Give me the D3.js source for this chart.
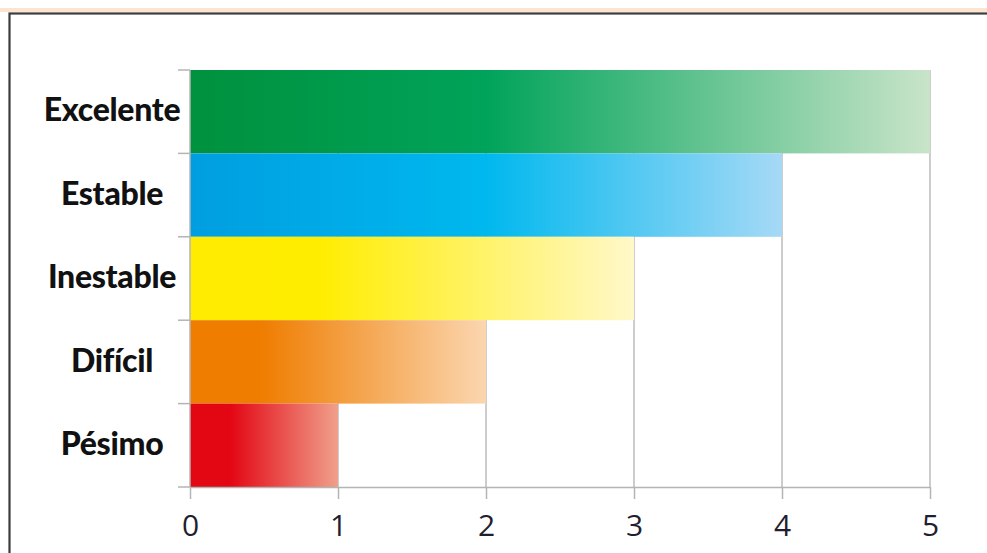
<!DOCTYPE html>
<html><head><meta charset="utf-8">
<script src="https://cdn.jsdelivr.net/npm/d3@7"></script>
<style>html,body{margin:0;padding:0;background:#fff;}svg{display:block;}</style>
</head><body>
<svg id="c" width="987" height="553"></svg>
<script>
const categories = ["Excelente", "Estable", "Inestable", "Difícil", "Pésimo"];
const values = [5, 4, 3, 2, 1];
const tickValues = [0, 1, 2, 3, 4, 5];
// gradient colours per bar: start, solid-end stop, fade end
const colorStart = ["#00913d", "#009ee0", "#ffec00", "#ef7d00", "#e30613"];
const colorMid   = ["#00a35a", "#00b8ee", "#ffed00", "#ef7d00", "#e30613"];
const colorEnd   = ["#c9e4c9", "#a6d9f6", "#fff8c9", "#fbd6b0", "#f0a08b"];
const midOffset  = [0.4, 0.5, 0.29, 0.24, 0.27];

const svg = d3.select("#c");
const x = d3.scaleLinear().domain([0, 5]).range([190, 930]);
const y = d3.scaleBand().domain(categories).range([70, 487]).padding(0);

// top peach strip and frame
svg.append("rect").attr("x", 0).attr("y", 8).attr("width", 987).attr("height", 4).attr("fill", "#fde4d0");
svg.append("rect").attr("x", 9.5).attr("y", 13.5).attr("width", 1200).attr("height", 800)
  .attr("fill", "none").attr("stroke", "#3c3c3c").attr("stroke-width", 2.2);

const defs = svg.append("defs");
categories.forEach((c, i) => {
  const g = defs.append("linearGradient").attr("id", "g" + i)
    .attr("x1", "0%").attr("x2", "100%").attr("y1", "0%").attr("y2", "0%");
  g.append("stop").attr("offset", 0).attr("stop-color", colorStart[i]);
  g.append("stop").attr("offset", midOffset[i]).attr("stop-color", colorMid[i]);
  g.append("stop").attr("offset", 1).attr("stop-color", colorEnd[i]);
});

// gridlines
svg.append("g").selectAll("line").data(tickValues.slice(1)).join("line")
  .attr("x1", d => x(d)).attr("x2", d => x(d))
  .attr("y1", 70).attr("y2", 487)
  .attr("stroke", "#bdbdbd").attr("stroke-width", 1.5);

// bars
svg.append("g").selectAll("rect").data(categories).join("rect")
  .attr("x", x(0)).attr("y", d => y(d))
  .attr("width", (d, i) => x(values[i]) - x(0))
  .attr("height", y.bandwidth())
  .attr("fill", (d, i) => `url(#g${i})`);

// x axis
const xAxis = svg.append("g").attr("transform", "translate(0,487)")
  .call(d3.axisBottom(x).tickValues(tickValues).tickFormat(d3.format("d")).tickSize(12).tickSizeOuter(0).tickPadding(16));
xAxis.selectAll("path,line").attr("stroke", "#b4b4b4").attr("stroke-width", 1.5);
xAxis.selectAll("text").attr("font-family", "'Open Sans', sans-serif").attr("font-size", 30).attr("fill", "#1f1f30");

// y axis: line and boundary ticks
const yG = svg.append("g");
yG.append("line").attr("x1", x(0)).attr("x2", x(0)).attr("y1", 70).attr("y2", 487)
  .attr("stroke", "#b4b4b4").attr("stroke-width", 1.5);
const bounds = categories.map(c => y(c)).concat([y.range()[1]]);
yG.selectAll("line.t").data(bounds).join("line").attr("class", "t")
  .attr("x1", x(0) - 12).attr("x2", x(0)).attr("y1", d => d).attr("y2", d => d)
  .attr("stroke", "#b4b4b4").attr("stroke-width", 1.5);
yG.selectAll("text").data(categories).join("text")
  .attr("x", 112).attr("y", d => y(d) + y.bandwidth() / 2)
  .attr("dy", "0.3em").attr("text-anchor", "middle")
  .attr("font-family", "Lato, sans-serif").attr("font-weight", 900).attr("font-size", 32)
  .attr("letter-spacing", -0.3)
  .attr("fill", "#111").text(d => d);
</script>
</body></html>
